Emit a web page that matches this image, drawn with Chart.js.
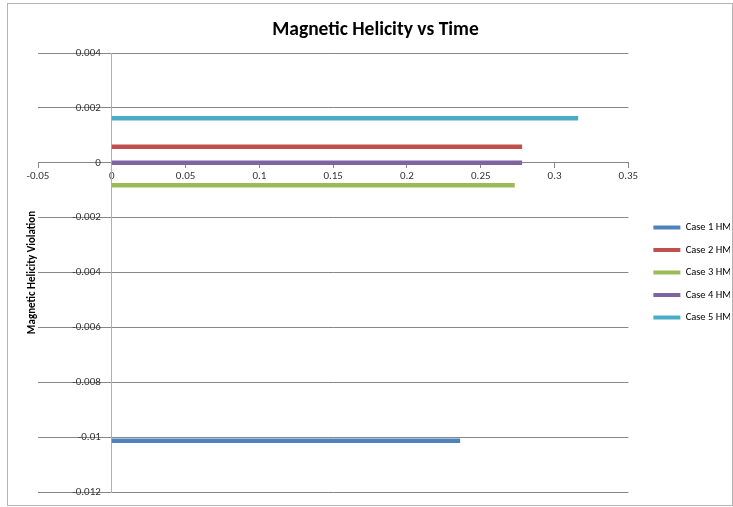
<!DOCTYPE html>
<html>
<head>
<meta charset="utf-8">
<script src="https://cdn.jsdelivr.net/npm/chart.js@4.4.1/dist/chart.umd.min.js"></script>
<style>
  body { margin: 0; background: #fff; }
</style>
</head>
<body>
<canvas id="helicityChart" width="733" height="507"></canvas>
<script>
// All Variables
const helicityChart = document.getElementById('helicityChart');
const fontFamily = 'Carlito, "Liberation Sans Narrow", "Liberation Sans", sans-serif';

// ---------- Data ------------- //
const seriesNames = ['Case 1 HM', 'Case 2 HM', 'Case 3 HM', 'Case 4 HM', 'Case 5 HM'];
const seriesColors = ['#4f81bd', '#c0504d', '#9bbb59', '#8064a2', '#4bacc6'];

const timeCase1 = [0, 0.05, 0.1, 0.15, 0.2, 0.236];
const hmCase1 = [-0.01013, -0.01013, -0.01013, -0.01013, -0.01013, -0.01013];
const timeCase2 = [0, 0.05, 0.1, 0.15, 0.2, 0.25, 0.278];
const hmCase2 = [0.00058, 0.00058, 0.00058, 0.00058, 0.00058, 0.00058, 0.00058];
const timeCase3 = [0, 0.05, 0.1, 0.15, 0.2, 0.25, 0.273];
const hmCase3 = [-0.00082, -0.00082, -0.00082, -0.00082, -0.00082, -0.00082, -0.00082];
const timeCase4 = [0, 0.05, 0.1, 0.15, 0.2, 0.25, 0.278];
const hmCase4 = [0, 0, 0, 0, 0, 0, 0];
const timeCase5 = [0, 0.05, 0.1, 0.15, 0.2, 0.25, 0.3, 0.316];
const hmCase5 = [0.00162, 0.00162, 0.00162, 0.00162, 0.00162, 0.00162, 0.00162, 0.00162];

const xTicks = [-0.05, 0, 0.05, 0.1, 0.15, 0.2, 0.25, 0.3, 0.35];
const yTicks = [-0.012, -0.01, -0.008, -0.006, -0.004, -0.002, 0, 0.002, 0.004];

const allTimes = [timeCase1, timeCase2, timeCase3, timeCase4, timeCase5];
const allHm = [hmCase1, hmCase2, hmCase3, hmCase4, hmCase5];

// ---------- Frame round the whole chart ------------- //
const chartFrame = {
    id: 'chartFrame',
    beforeDraw(chart) {
        const ctx = chart.ctx;
        ctx.save();
        ctx.strokeStyle = '#b3b3b3';
        ctx.lineWidth = 1;
        ctx.strokeRect(7.5, 3.5, 725, 502);
        ctx.restore();
    }
};

// scale that only carries space (no ticks, no grid)
const spacerScale = (position, width, extra) => ({
    type: 'linear',
    axis: 'y',
    position: position,
    afterFit(scale) { scale.width = width; },
    grid: { display: false },
    border: { display: false },
    ticks: { display: false },
    ...extra
});

// ---------- Magnetic Helicity Chart ------------- //
new Chart(helicityChart, {
    type: 'line',
    data: {
        datasets: seriesNames.map((name, i) => ({
            label: name,
            data: allTimes[i].map((t, j) => ({ x: t, y: allHm[i][j] })),
            borderColor: seriesColors[i],
            backgroundColor: seriesColors[i],
            borderWidth: 4.5,
            pointRadius: 0,
            fill: false
        }))
    },
    options: {
        responsive: false,
        animation: false,
        layout: {
            padding: { left: 21, right: 3, top: 0, bottom: 15 }
        },
        plugins: {
            title: {
                display: true,
                text: 'Magnetic Helicity vs Time',
                color: '#000',
                font: { family: fontFamily, size: 19.5, weight: 'bold' },
                padding: { top: 18.3, bottom: 11.3 }
            },
            legend: {
                position: 'right',
                fullSize: false,
                labels: {
                    color: '#000',
                    font: { family: fontFamily, size: 10.5 },
                    boxWidth: 27,
                    boxHeight: 4,
                    padding: 12,
                    generateLabels(chart) {
                        return Chart.defaults.plugins.legend.labels.generateLabels(chart)
                            .map(item => ({ ...item, lineWidth: 0 }));
                    }
                }
            },
            tooltip: { enabled: false }
        },
        scales: {
            x: {
                type: 'linear',
                position: { y: 0 },
                min: -0.05,
                max: 0.35,
                afterFit(scale) { scale.height = 0; },
                afterBuildTicks(scale) { scale.ticks = xTicks.map(v => ({ value: v })); },
                grid: { drawOnChartArea: false, drawTicks: true, tickLength: 5, color: '#868686' },
                border: { color: '#868686' },
                ticks: {
                    color: '#333',
                    font: { family: fontFamily, size: 11 },
                    padding: 2,
                    maxRotation: 0,
                    callback: v => String(v)
                }
            },
            y: {
                type: 'linear',
                position: { x: 0 },
                min: -0.012,
                max: 0.004,
                afterFit(scale) { scale.width = 0; },
                afterBuildTicks(scale) { scale.ticks = yTicks.map(v => ({ value: v })); },
                grid: { drawTicks: false, color: '#868686' },
                border: { color: '#b0b0b0' },
                ticks: {
                    color: '#333',
                    font: { family: fontFamily, size: 11 },
                    callback: v => String(v) + '\u2002\u2002'
                }
            },
            yTitle: spacerScale('left', 17, {
                title: {
                    display: true,
                    text: 'Magnetic Helicity Violation',
                    color: '#000',
                    font: { family: fontFamily, size: 11, weight: 'bold' },
                    padding: { top: 4.4, bottom: 0 }
                }
            }),
            yGap: spacerScale('right', 13, {})
        }
    },
    plugins: [chartFrame]
});
</script>
</body>
</html>
